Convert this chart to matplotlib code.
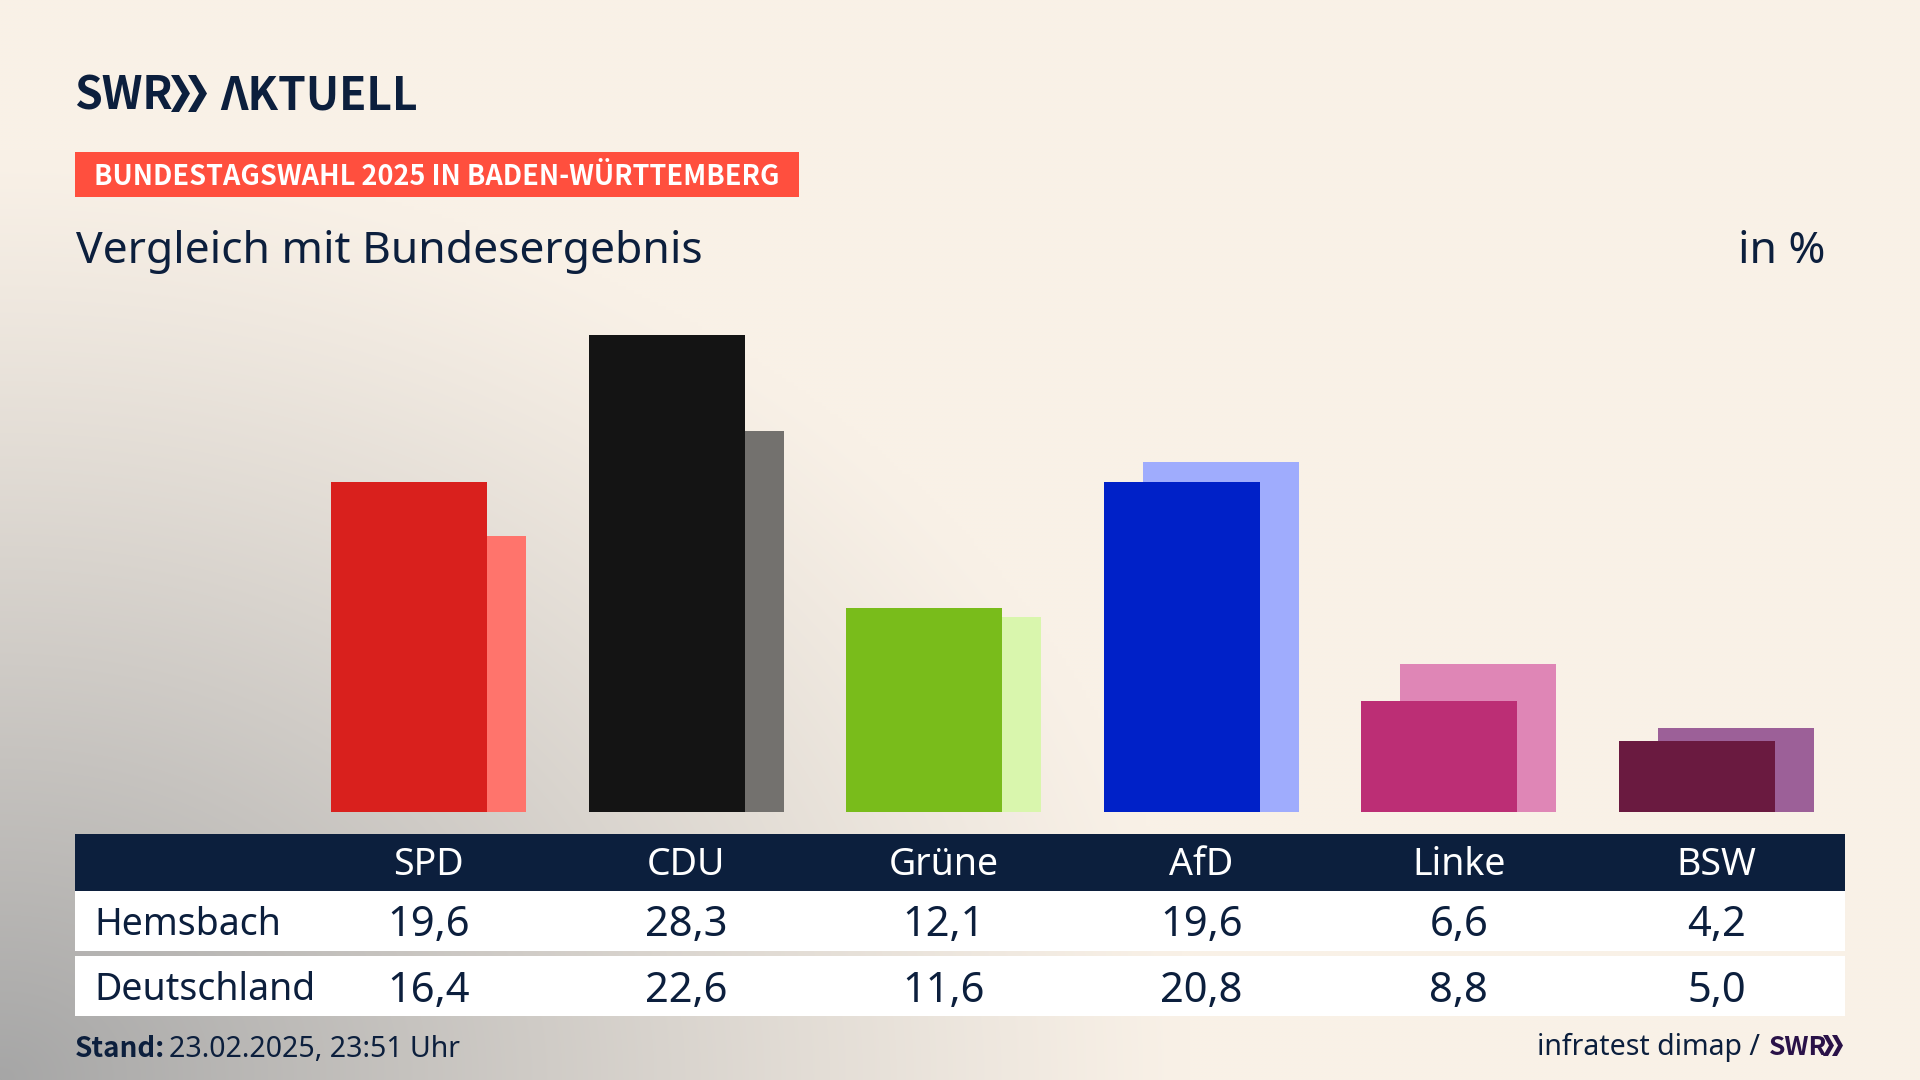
import matplotlib
matplotlib.use('Agg')
import matplotlib.pyplot as plt
from matplotlib.patches import Polygon, Rectangle
import numpy as np

plt.rcParams['font.family'] = ['Noto Sans', 'DejaVu Sans']
FETT = ['Noto Sans CJK SC', 'Lato', 'DejaVu Sans']

# Daten
parteien = ['SPD', 'CDU', 'Grüne', 'AfD', 'Linke', 'BSW']
hemsbach = [19.6, 28.3, 12.1, 19.6, 6.6, 4.2]
deutschland = [16.4, 22.6, 11.6, 20.8, 8.8, 5.0]
farben_vorne = ['#D9201D', '#141414', '#79BC1B', '#0021C8', '#BC2E75', '#6A1A40']
farben_hinten = ['#FF746C', '#73716E', '#D9F6AD', '#9FACFD', '#DF86B6', '#9C6098']

NAVY = '#0C1F3D'
W, H = 1920, 1080
SPALTE = 257.55  # Abstand der Gruppen in px
X0 = 428.5       # Mitte der ersten Gruppe
PX_PRO_PROZENT = 16.84
BASIS = 812


def zahl(v):
    return f'{v:.1f}'.replace('.', ',')


def chevrons(ax, x, top, bot, w, t, gap, farbe):
    mid = (top + bot) / 2
    for k in range(2):
        x1 = x + k * gap
        ax.add_patch(Polygon([(x1, top), (x1 + t, top), (x1 + w, mid), (x1 + t, bot),
                              (x1, bot), (x1 + w - t, mid)], closed=True, fc=farbe, ec='none'))


fig = plt.figure(figsize=(19.2, 10.8), dpi=100)

# Hintergrund mit Verlauf von links unten
bg = fig.add_axes([0, 0, 1, 1], zorder=0)
xx, yy = np.meshgrid(np.linspace(0, 1, 480), np.linspace(0, 1, 270))
d = np.sqrt((xx / 0.62) ** 2 + (yy / 0.86) ** 2)
m = np.clip(1 - d, 0, 1) ** 1.15
creme = np.array([249, 241, 231]) / 255
grau = np.array([166, 166, 166]) / 255
bild = creme[None, None, :] * (1 - m[..., None]) + grau[None, None, :] * m[..., None]
bg.imshow(bild, origin='lower', extent=[0, 1, 0, 1], aspect='auto', interpolation='bilinear')
bg.axis('off')

# Balken
ax = fig.add_axes([75 / W, 1 - BASIS / H, (1845 - 75) / W, (BASIS - 300) / H], zorder=1)
ax.patch.set_alpha(0)
pos = np.arange(len(parteien))
breite = 156 / SPALTE
versatz = 19.5 / SPALTE
ax.bar(pos + versatz, deutschland, breite, color=farben_hinten)
ax.bar(pos - versatz, hemsbach, breite, color=farben_vorne)
ax.set_xlim((75 - X0) / SPALTE, (1845 - X0) / SPALTE)
ax.set_ylim(0, (BASIS - 300) / PX_PRO_PROZENT)
ax.axis('off')

# Alles andere in Pixelkoordinaten
ov = fig.add_axes([0, 0, 1, 1], zorder=2)
ov.set_xlim(0, W)
ov.set_ylim(H, 0)
ov.axis('off')
ov.patch.set_alpha(0)

# Logo
ov.text(74, 110, 'SWR', fontsize=32, fontweight='bold', family=FETT, color=NAVY, va='baseline')
chevrons(ov, 171, 75, 112, 19, 8, 17, NAVY)
ov.text(220, 110, 'ΛKTUELL', fontsize=32, fontweight='bold', family=FETT, color=NAVY, va='baseline')

# Kopf
ov.add_patch(Rectangle((75, 152), 724, 45, fc='#FF4F3E', ec='none'))
ov.text(94, 185, 'BUNDESTAGSWAHL 2025 IN BADEN-WÜRTTEMBERG', fontsize=19.5, fontweight='bold',
        family=FETT, color='white', va='baseline')
ov.text(76, 263, 'Vergleich mit Bundesergebnis', fontsize=32, color=NAVY, va='baseline')
ov.text(1825, 263, 'in %', fontsize=32, color=NAVY, va='baseline', ha='right')

# Tabelle
ov.add_patch(Rectangle((75, 834), 1770, 57, fc=NAVY, ec='none'))
ov.add_patch(Rectangle((75, 891), 1770, 60, fc='white', ec='none'))
ov.add_patch(Rectangle((75, 956), 1770, 60, fc='white', ec='none'))
ov.text(94, 935, 'Hemsbach', fontsize=27, color=NAVY, va='baseline')
ov.text(94, 1000, 'Deutschland', fontsize=27, color=NAVY, va='baseline')
for i, p in enumerate(parteien):
    x = X0 + i * SPALTE
    ov.text(x, 875, p, fontsize=27, color='white', ha='center', va='baseline')
    ov.text(x, 936, zahl(hemsbach[i]), fontsize=30, color=NAVY, ha='center', va='baseline')
    ov.text(x, 1002, zahl(deutschland[i]), fontsize=30, color=NAVY, ha='center', va='baseline')

# Fuss
ov.text(75, 1057, 'Stand:', fontsize=20, fontweight='bold', family=FETT, color=NAVY, va='baseline')
ov.text(169, 1057, '23.02.2025, 23:51 Uhr', fontsize=20.5, color=NAVY, va='baseline')
ov.text(1760, 1055, 'infratest dimap /', fontsize=20.5, color=NAVY, va='baseline', ha='right')
ov.text(1769, 1055, 'SWR', fontsize=19, fontweight='bold', family=FETT, color='#2A1248', va='baseline')
chevrons(ov, 1823, 1035, 1056, 11, 5, 9, '#2A1248')

fig.savefig('out.png', dpi=100)
